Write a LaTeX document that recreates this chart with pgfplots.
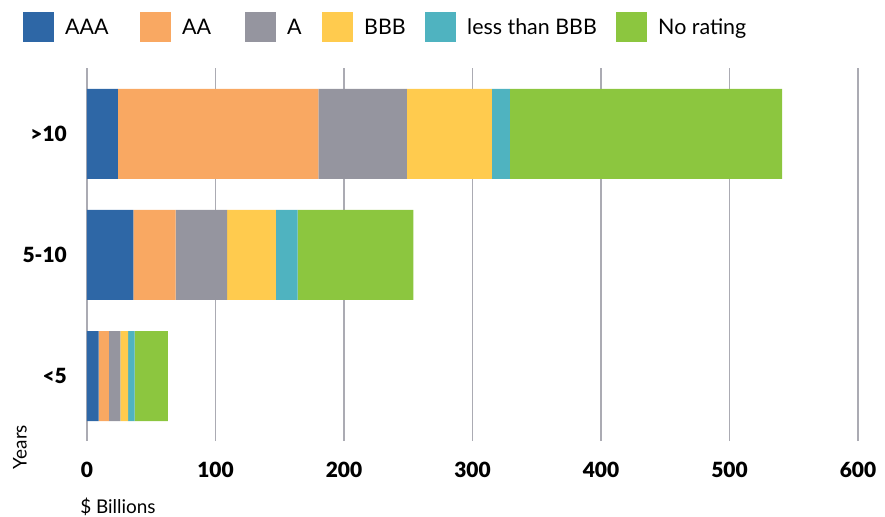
\documentclass[border=0pt]{standalone}
\usepackage{pgfplots}
\pgfplotsset{compat=1.18}
\usepackage{pgfplotstable}
\usepackage{fontspec}
\setmainfont{Lato}
\newfontfamily\blackfont{Lato Black}

\definecolor{cAAA}{HTML}{2E67A6}
\definecolor{cAA}{HTML}{F9A862}
\definecolor{cA}{HTML}{95959F}
\definecolor{cBBB}{HTML}{FFCB4E}
\definecolor{cLBBB}{HTML}{4FB3C0}
\definecolor{cNR}{HTML}{8CC63F}
\definecolor{gridc}{HTML}{ABABB3}

% y: 0 = <5, 1 = 5-10, 2 = >10 ($ billions)
\pgfplotstableread{
y aaa aa a bbb lbbb nr
0 9 8 9 6 5 26
1 36 33 40 38 17 90
2 24 156 69 66 14 212
}\ratingdata

\newcommand{\lentry}[2]{\makebox[#1][l]{#2}}

\begin{document}
\begin{tikzpicture}
\useasboundingbox (-87bp,-76bp) rectangle (798bp,441bp);
\begin{axis}[
    at={(0,0)}, anchor=south west,
    scale only axis,
    width=771bp, height=373bp,
    xbar stacked,
    bar width=90bp,
    xmin=0, xmax=600,
    ymin=-0.537, ymax=2.545,
    xtick={0,100,...,600},
    ytick={0,1,2},
    yticklabels={<5,5-10,>10},
    xmajorgrids,
    major grid style={color=gridc, line width=1.2bp},
    axis line style={draw=none},
    major tick length=0pt,
    /pgf/number format/assume math mode=true,
    xticklabel style={font=\fontsize{21}{24}\selectfont\blackfont, anchor=north, inner sep=0pt, yshift=-21bp},
    yticklabel style={font=\fontsize{21}{24}\selectfont\blackfont, anchor=east, inner sep=0pt, xshift=-20bp},
    xlabel={\$ Billions},
    xlabel style={font=\fontsize{19}{22}\selectfont, at={(axis description cs:-0.009,-0.177)}, anchor=west, inner sep=0pt},
    ylabel={Years},
    ylabel style={font=\fontsize{19}{22}\selectfont, at={(axis description cs:-0.087,-0.016)}, anchor=center, rotate=0, inner sep=0pt},
    legend columns=6,
    legend style={draw=none, fill=none, inner sep=0pt,
        at={(axis description cs:-0.083,1.150)}, anchor=north west,
        font=\fontsize{21.5}{26}\selectfont,
        nodes={inner sep=0pt},
        /tikz/every odd column/.append style={column sep=11bp},
        /tikz/every even column/.append style={column sep=0bp}},
    legend image code/.code={\fill[#1] (0bp,-15bp) rectangle (31bp,15bp);},
]
\addplot[fill=cAAA, draw=none] table[x=aaa, y=y] {\ratingdata};
\addlegendentry{\lentry{75bp}{AAA}}
\addplot[fill=cAA, draw=none] table[x=aa, y=y] {\ratingdata};
\addlegendentry{\lentry{63bp}{AA}}
\addplot[fill=cA, draw=none] table[x=a, y=y] {\ratingdata};
\addlegendentry{\lentry{35bp}{A}}
\addplot[fill=cBBB, draw=none] table[x=bbb, y=y] {\ratingdata};
\addlegendentry{\lentry{61bp}{BBB}}
\addplot[fill=cLBBB, draw=none] table[x=lbbb, y=y] {\ratingdata};
\addlegendentry{\lentry{149bp}{less than BBB}}
\addplot[fill=cNR, draw=none] table[x=nr, y=y] {\ratingdata};
\addlegendentry{No rating}
\end{axis}
\end{tikzpicture}
\end{document}
